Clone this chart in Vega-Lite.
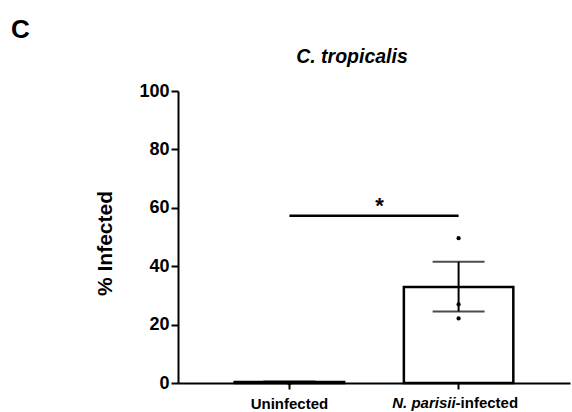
{
  "$schema": "https://vega.github.io/schema/vega-lite/v6.json",
  "autosize": "none",
  "width": 392,
  "height": 292,
  "padding": {"left": 178, "top": 91, "right": 2, "bottom": 29},
  "background": "white",
  "config": {
    "font": "Liberation Sans",
    "view": {"stroke": null},
    "axis": {"domainColor": "black", "tickColor": "black", "labelColor": "black", "titleColor": "black", "domainWidth": 2, "tickWidth": 2, "grid": false, "labelFontWeight": "bold", "titleFontWeight": "bold"}
  },
  "title": {
    "text": "C. tropicalis",
    "fontStyle": "italic",
    "fontWeight": "bold",
    "fontSize": 19.5,
    "color": "black",
    "anchor": "middle",
    "frame": "group",
    "dx": -22,
    "dy": 75,
    "offset": 25
  },
  "datasets": {
    "summary": [
      {"group": "Uninfected", "mean": 0.3, "lo": 0.1, "hi": 0.5},
      {"group": "N. parisii-infected", "mean": 32.9, "lo": 24.5, "hi": 41.5}
    ],
    "points": [
      {"group": "Uninfected", "value": 0},
      {"group": "Uninfected", "value": 0},
      {"group": "Uninfected", "value": 0},
      {"group": "N. parisii-infected", "value": 49.6},
      {"group": "N. parisii-infected", "value": 26.9},
      {"group": "N. parisii-infected", "value": 22.1}
    ],
    "sig": [
      {"from": "Uninfected", "to": "N. parisii-infected", "y": 57.3, "label": "*"}
    ]
  },
  "encoding": {
    "x": {
      "field": "group",
      "type": "nominal",
      "sort": ["Uninfected", "N. parisii-infected"],
      "scale": {"domain": ["Uninfected", "N. parisii-infected"], "paddingInner": 0.353, "paddingOuter": 0.335},
      "axis": {"title": null, "labelAngle": 0, "labelFontSize": 15, "tickSize": 6, "labelPadding": 7, "labelExpr": "datum.value == 'Uninfected' ? datum.label : ''"}
    }
  },
  "layer": [
    {
      "data": {"name": "summary"},
      "mark": {"type": "bar", "fill": "white", "stroke": "black", "strokeWidth": 2.5},
      "encoding": {
        "y": {
          "field": "mean",
          "type": "quantitative",
          "scale": {"domain": [0, 100]},
          "axis": {"title": "% Infected", "titleFontSize": 21, "titlePadding": 23, "titleY": 152, "values": [0, 20, 40, 60, 80, 100], "labelFontSize": 18, "tickSize": 7, "labelPadding": 2}
        }
      }
    },
    {
      "data": {"name": "summary"},
      "mark": {"type": "rule", "color": "black", "strokeWidth": 2},
      "encoding": {
        "y": {"field": "lo", "type": "quantitative"},
        "y2": {"field": "hi"}
      }
    },
    {
      "data": {"name": "summary"},
      "mark": {"type": "tick", "color": "black", "size": 52, "thickness": 2},
      "encoding": {"y": {"field": "hi", "type": "quantitative"}}
    },
    {
      "data": {"name": "summary"},
      "mark": {"type": "tick", "color": "black", "size": 52, "thickness": 2},
      "encoding": {"y": {"field": "lo", "type": "quantitative"}}
    },
    {
      "data": {"name": "points"},
      "mark": {"type": "circle", "color": "black", "opacity": 1, "size": 18},
      "encoding": {"y": {"field": "value", "type": "quantitative"}}
    },
    {
      "data": {"name": "sig"},
      "mark": {"type": "rule", "color": "black", "strokeWidth": 2.5},
      "encoding": {
        "x": {"field": "from", "type": "nominal"},
        "x2": {"field": "to"},
        "y": {"field": "y", "type": "quantitative"}
      }
    },
    {
      "data": {"name": "sig"},
      "mark": {"type": "text", "fontSize": 22, "fontWeight": "bold", "baseline": "alphabetic", "align": "center", "dx": 90, "dy": -3, "color": "black"},
      "encoding": {
        "x": {"field": "from", "type": "nominal"},
        "y": {"field": "y", "type": "quantitative"},
        "text": {"field": "label"}
      }
    },
    {
      "data": {"values": [{"t": "N. parisii"}]},
      "mark": {"type": "text", "fontSize": 15, "fontWeight": "bold", "fontStyle": "italic", "align": "right", "baseline": "alphabetic", "dx": -3, "dy": 25, "color": "black"},
      "encoding": {
        "x": {"datum": "N. parisii-infected"},
        "y": {"datum": 0},
        "text": {"field": "t"}
      }
    },
    {
      "data": {"values": [{"t": "-infected"}]},
      "mark": {"type": "text", "fontSize": 15, "fontWeight": "bold", "align": "left", "baseline": "alphabetic", "dx": -3, "dy": 25, "color": "black"},
      "encoding": {
        "x": {"datum": "N. parisii-infected"},
        "y": {"datum": 0},
        "text": {"field": "t"}
      }
    },
    {
      "data": {"values": [{"t": "C"}]},
      "mark": {"type": "text", "fontSize": 26, "fontWeight": "bold", "align": "center", "baseline": "alphabetic", "dx": -269, "color": "black"},
      "encoding": {
        "x": {"datum": "Uninfected"},
        "y": {"datum": 118},
        "text": {"field": "t"}
      }
    }
  ]
}
